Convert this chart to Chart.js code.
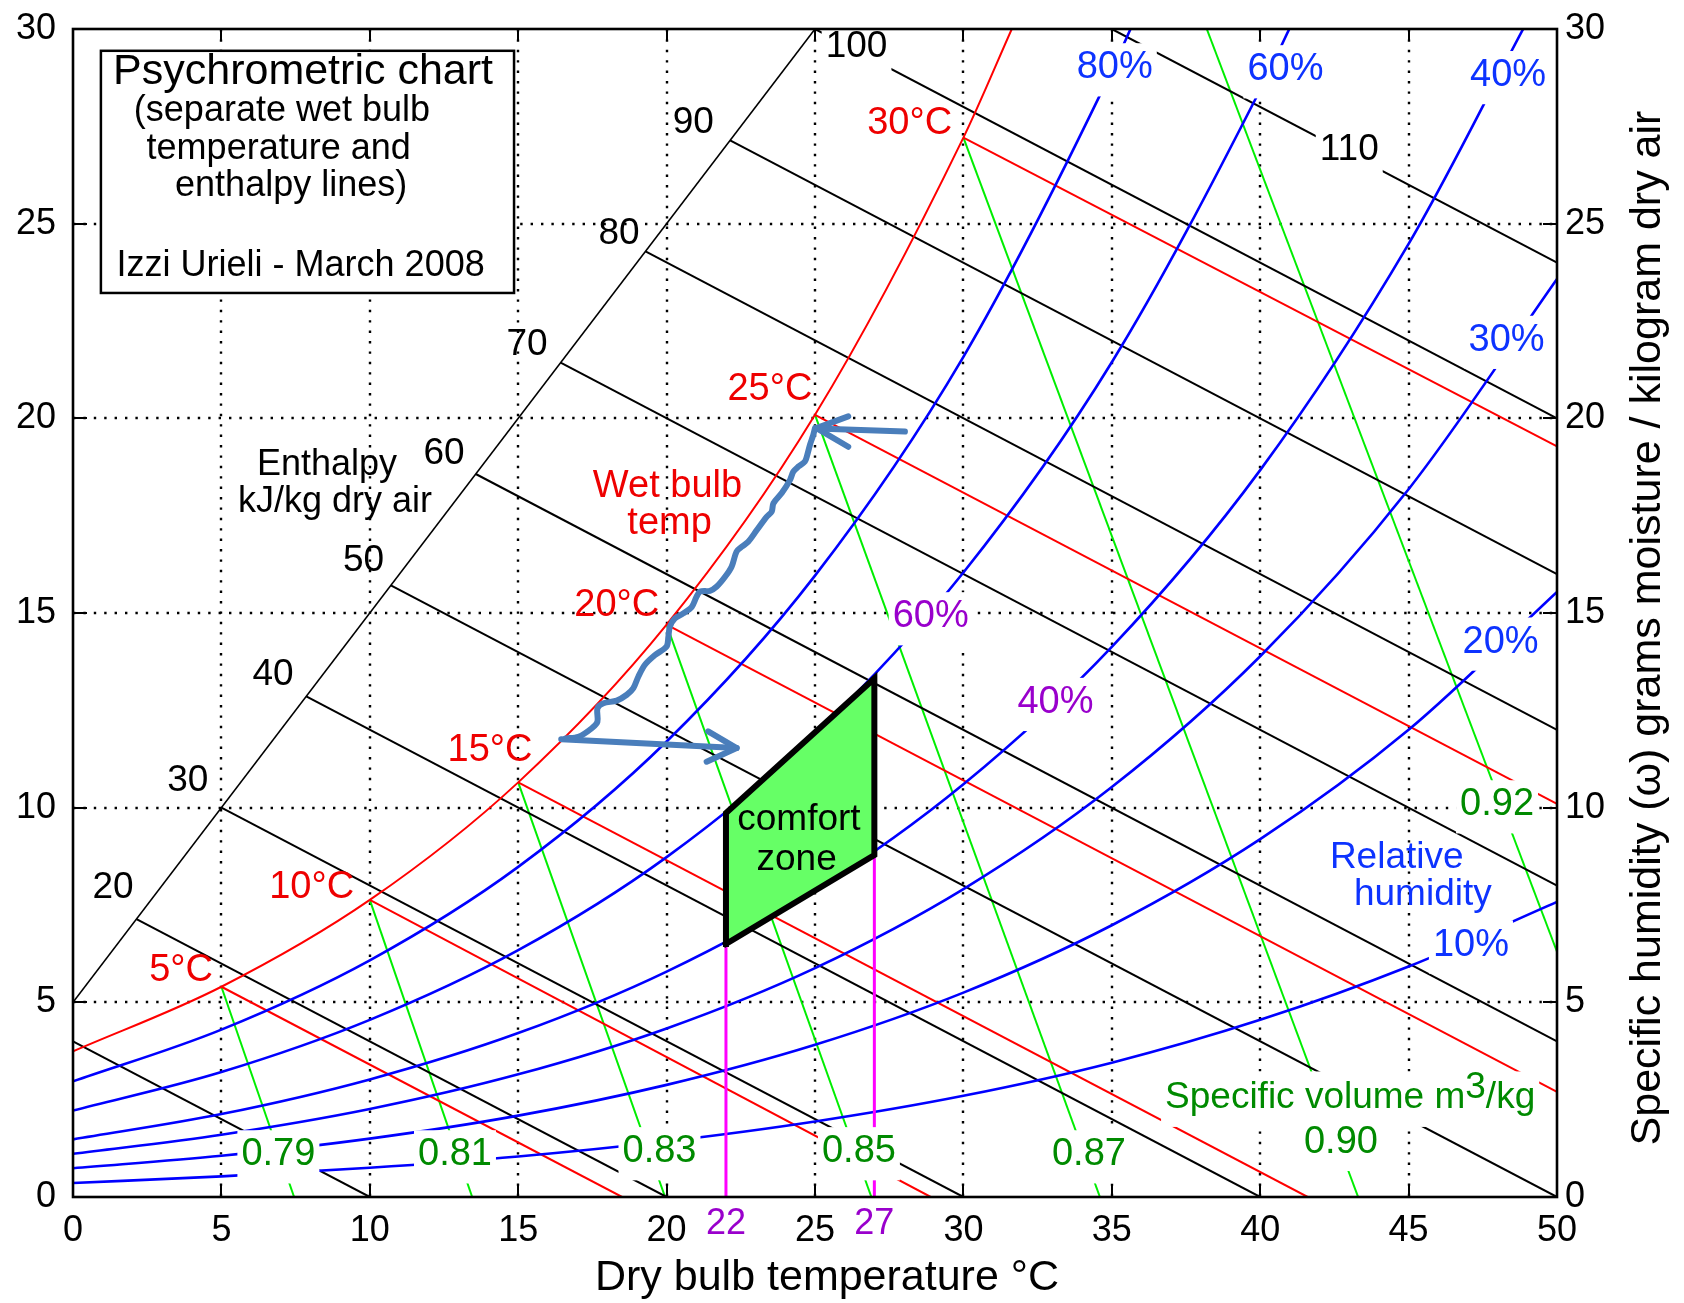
<!DOCTYPE html>
<html><head><meta charset="utf-8">
<style>html,body{margin:0;padding:0;background:#fff;}</style>
<script src="https://cdn.jsdelivr.net/npm/chart.js@4.4.0/dist/chart.umd.min.js"></script>
</head><body>
<canvas id="c" width="1684" height="1303"></canvas>
<script>
const FONT = '"Liberation Sans", Arial, Helvetica, sans-serif';

// ---------- axis ticks ----------
const xTicks = [0,5,10,15,20,25,30,35,40,45,50];
const yTicks = [0,5,10,15,20,25,30];
const extraXTicks = [22,27];

// ---------- relative humidity curves (dry bulb T, g/kg) ----------
const rhT   = [0,5,10,15,20,25,30,35,40,45,50];
const rh10W = [0.36,0.53,0.75,1.04,1.43,1.94,2.60,3.45,4.55,5.92,7.58];
const rh20W = [0.74,1.06,1.50,2.09,2.88,3.91,5.25,6.98,9.19,12.00,15.54];
const rh30W = [1.11,1.60,2.26,3.15,4.33,5.88,7.91,10.53,13.89,18.18,23.58];
const rh40T = [0,5,10,15,20,25,30,35,40,45,48.86];
const rh40W = [1.48,2.13,3.02,4.21,5.79,7.87,10.60,14.13,18.67,24.48,30];
const rh60T = [0,5,10,15,20,25,30,35,40,40.98];
const rh60W = [2.22,3.21,4.55,6.34,8.73,11.89,16.04,21.44,28.44,30];
const rh80T = [0,5,10,15,20,25,30,35,35.63];
const rh80W = [2.97,4.30,6.08,8.48,11.70,15.96,21.58,28.93,30];
const satT  = [0,5,10,15,20,25,30,31.63];
const satW  = [3.74,5.40,7.63,10.65,14.70,20.09,27.21,30];

// ---------- wet bulb lines (start on saturation, end on edge) ----------
const wb5T  = [5,18.5],   wb5W  = [5.40,0];
const wb10T = [10,28.9],  wb10W = [7.63,0];
const wb15T = [15,41.6],  wb15W = [10.65,0];
const wb20T = [20,50],    wb20W = [14.70,2.7];
const wb25T = [25,50],    wb25W = [20.09,10.1];
const wb30T = [30,50],    wb30W = [27.21,19.28];

// ---------- enthalpy lines (kJ/kg dry air) ----------
const guideT = [0,25], guideW = [5,30];
const h10T  = [0,10],      h10W  = [4.0,0];
const h20T  = [2.14,20],   h20W  = [7.14,0];
const h30T  = [5,30],      h30W  = [10,0];
const h40T  = [7.86,40],   h40W  = [12.86,0];
const h50T  = [10.71,50],  h50W  = [15.71,0];
const h60T  = [13.57,50],  h60W  = [18.57,4.0];
const h70T  = [16.43,50],  h70W  = [21.43,8.0];
const h80T  = [19.29,50],  h80W  = [24.29,12.0];
const h90T  = [22.14,50],  h90W  = [27.14,16.0];
const h100T = [25,50],     h100W = [30,20.0];
const h110T = [35,50],     h110W = [30,24.0];

// ---------- specific volume lines (m3/kg) ----------
const v79T = [5,7.45],   v79W = [5.40,0];
const v81T = [10,13.45], v81W = [7.63,0];
const v83T = [15,19.95], v83W = [10.65,0];
const v85T = [20,26.9],  v85W = [14.70,0];
const v87T = [25,34.6],  v87W = [20.09,0];
const v90T = [30,43.3],  v90W = [27.21,0];
const v92T = [38.2,50],  v92W = [30,6.3];

// ---------- comfort zone ----------
const comfortT = [22,22,27,27,22];
const comfortW = [6.5,9.86,13.32,8.78,6.5];

// ---------- hand-drawn arrows ----------
const wavyT = [16.6,17.03,17.48,17.67,17.67,17.87,18.32,18.66,18.88,19.05,19.27,19.61,20.0,20.06,20.11,20.28,20.56,20.85,21.01,21.13,21.46,21.69,21.97,22.19,22.36,22.53,22.75,23.04,23.37,23.54,23.6,23.88,24.16,24.27,24.44,24.66,24.74,24.83,24.94,25.0];
const wavyW = [11.78,11.82,12.04,12.21,12.55,12.68,12.75,12.9,13.07,13.37,13.67,13.92,14.14,14.39,14.65,14.86,14.99,15.16,15.42,15.55,15.57,15.68,15.93,16.19,16.58,16.7,16.83,17.13,17.47,17.6,17.82,18.08,18.42,18.63,18.76,18.89,19.06,19.32,19.57,19.75];
const arrow1T = [16.45,22.36], arrow1W = [11.76,11.53];
const head1T  = [21.4,22.36,21.35], head1W = [11.96,11.53,11.18];
const arrow2T = [28.03,25.05], arrow2W = [19.66,19.74];
const head2T  = [26.12,25.05,26.12], head2W = [20.05,19.75,19.27];

// ---------- colours ----------
const C_BLUE='#0000ff', C_RED='#ff0000', C_GREEN='#00ee00', C_BLACK='#000000', C_MAG='#ff00ff', C_ARROW='#4a7ebb';
const T_RED='#ee0000', T_BLUE='#0d33ff', T_GREEN='#008a00', T_PURPLE='#9900cc';

function pts(T,W){ return T.map((t,i)=>({x:t,y:W[i]})); }
function ds(T,W,color,width,extra){
  return Object.assign({data:pts(T,W),borderColor:color,backgroundColor:color,borderWidth:width,
    showLine:true,pointRadius:0,pointHoverRadius:0,fill:false,tension:0,xAxisID:'x',yAxisID:'y'},extra||{});
}
const smooth = {cubicInterpolationMode:'monotone'};
const arrowOpt = {borderCapStyle:'round',borderJoinStyle:'round'};

const datasets = [
  ds(wavyT,wavyW,C_ARROW,6,Object.assign({tension:0.3},arrowOpt)),   // 0
  ds(arrow1T,arrow1W,C_ARROW,6,arrowOpt),                              // 1
  ds(head1T,head1W,C_ARROW,6,arrowOpt),                                // 2
  ds(arrow2T,arrow2W,C_ARROW,6,arrowOpt),                              // 3
  ds(head2T,head2W,C_ARROW,6,arrowOpt),                                // 4
  ds(comfortT,comfortW,C_BLACK,6,{borderJoinStyle:'miter',borderCapStyle:'square'}), // 5
  ds([comfortT[0],comfortT[0]],[0,comfortW[0]],C_MAG,3),
  ds([comfortT[2],comfortT[2]],[0,comfortW[3]],C_MAG,3),
  ds(satT,satW,C_RED,2,smooth),
  ds(rhT,rh10W,C_BLUE,2.6,smooth),
  ds(rhT,rh20W,C_BLUE,2.6,smooth),
  ds(rhT,rh30W,C_BLUE,2.6,smooth),
  ds(rh40T,rh40W,C_BLUE,2.6,smooth),
  ds(rh60T,rh60W,C_BLUE,2.6,smooth),
  ds(rh80T,rh80W,C_BLUE,2.6,smooth),
  ds(wb5T,wb5W,C_RED,2), ds(wb10T,wb10W,C_RED,2), ds(wb15T,wb15W,C_RED,2),
  ds(wb20T,wb20W,C_RED,2), ds(wb25T,wb25W,C_RED,2), ds(wb30T,wb30W,C_RED,2),
  ds(guideT,guideW,C_BLACK,1.6),
  ds(h10T,h10W,C_BLACK,2), ds(h20T,h20W,C_BLACK,2), ds(h30T,h30W,C_BLACK,2), ds(h40T,h40W,C_BLACK,2),
  ds(h50T,h50W,C_BLACK,2), ds(h60T,h60W,C_BLACK,2), ds(h70T,h70W,C_BLACK,2), ds(h80T,h80W,C_BLACK,2),
  ds(h90T,h90W,C_BLACK,2), ds(h100T,h100W,C_BLACK,2), ds(h110T,h110W,C_BLACK,2),
  ds(v79T,v79W,C_GREEN,2), ds(v81T,v81W,C_GREEN,2), ds(v83T,v83W,C_GREEN,2), ds(v85T,v85W,C_GREEN,2),
  ds(v87T,v87W,C_GREEN,2), ds(v90T,v90W,C_GREEN,2), ds(v92T,v92W,C_GREEN,2)
];
const COMFORT_INDEX = 5;

// text annotations: [text, T, W, colour, size, whiteBackground]
const labels = [
  ['20',1.35,7.94,C_BLACK,37,false],['30',3.87,10.7,C_BLACK,37,false],['40',6.74,13.4,C_BLACK,37,false],
  ['50',9.79,16.35,C_BLACK,37,false],['60',12.5,19.1,C_BLACK,37,false],['70',15.3,21.9,C_BLACK,37,false],
  ['80',18.4,24.75,C_BLACK,37,false],['90',20.9,27.6,C_BLACK,37,false],['100',26.4,29.55,C_BLACK,37,true],
  ['110',43.0,26.9,C_BLACK,37,true],
  ['Enthalpy',8.56,18.79,C_BLACK,36,false],['kJ/kg dry air',8.83,17.84,C_BLACK,36,false],
  ['5°C',3.64,5.83,T_RED,38,false],['10°C',8.04,7.96,T_RED,38,false],['15°C',14.05,11.48,T_RED,38,false],
  ['20°C',18.32,15.2,T_RED,38,false],['25°C',23.48,20.75,T_RED,38,false],['30°C',28.19,27.58,T_RED,38,false],
  ['Wet bulb',20.03,18.26,T_RED,38,false],['temp',20.1,17.29,T_RED,38,false],
  ['80%',35.1,29.0,T_BLUE,38,true],['60%',40.85,28.95,T_BLUE,38,true],['40%',48.35,28.8,T_BLUE,38,true],
  ['30%',48.3,22.0,T_BLUE,38,true],['20%',48.1,14.25,T_BLUE,38,true],['10%',47.1,6.47,T_BLUE,38,true],
  ['Relative',44.6,8.71,T_BLUE,37,false],['humidity',45.48,7.76,T_BLUE,37,false],
  ['60%',28.9,14.9,T_PURPLE,38,true],['40%',33.1,12.7,T_PURPLE,38,true],
  ['0.79',6.92,1.08,T_GREEN,38,true],['0.81',12.87,1.08,T_GREEN,38,true],['0.83',19.76,1.16,T_GREEN,38,true],
  ['0.85',26.48,1.16,T_GREEN,38,true],['0.87',34.23,1.08,T_GREEN,38,true],['0.90',42.72,1.40,T_GREEN,38,true],
  ['0.92',47.98,10.07,T_GREEN,38,true],
  ['comfort',24.46,9.68,C_BLACK,37,false],['zone',24.38,8.65,C_BLACK,37,false]
];
const specVolLabel = {a:'Specific volume m', sup:'3', b:'/kg', T:43.03, W:2.56, size:37};
const infoBox = {T0:0.94, T1:14.86, W0:23.22, W1:29.44,
  lines:[['Psychrometric chart',7.75,28.9,43],['(separate wet bulb',7.04,27.88,36],['temperature and',6.93,26.92,36],
         ['enthalpy lines)',7.35,25.97,36],['Izzi Urieli - March 2008',7.67,23.9,36]]};
const xTitle = 'Dry bulb temperature °C';
const yTitle = 'Specific humidity (ω) grams moisture / kilogram dry air';

function txt(ctx,str,x,y,color,size,bg){
  ctx.save();
  ctx.font = size+'px '+FONT;
  ctx.textAlign='center'; ctx.textBaseline='middle';
  if(bg){ const w=ctx.measureText(str).width; ctx.fillStyle='#fff'; ctx.fillRect(x-w/2-4,y-0.65*size,w+8,1.4*size); }
  ctx.fillStyle=color; ctx.fillText(str,x,y);
  ctx.restore();
}

const annot = {
  id:'annot',
  beforeDatasetsDraw(chart){
    const {ctx,chartArea:a,scales:{x,y}} = chart;
    ctx.save(); ctx.strokeStyle='#000'; ctx.lineWidth=2.4; ctx.setLineDash([2.4,8]);
    xTicks.forEach(v=>{ if(v>0&&v<50){ const p=Math.round(x.getPixelForValue(v)); ctx.beginPath(); ctx.moveTo(p,a.top); ctx.lineTo(p,a.bottom); ctx.stroke(); }});
    yTicks.forEach(v=>{ if(v>0&&v<30){ const p=Math.round(y.getPixelForValue(v)); ctx.beginPath(); ctx.moveTo(a.left,p); ctx.lineTo(a.right,p); ctx.stroke(); }});
    ctx.restore();
  },
  beforeDatasetDraw(chart,args){
    if(args.index!==COMFORT_INDEX) return;
    const {ctx,scales:{x,y}} = chart;
    ctx.save(); ctx.fillStyle='#66ff66'; ctx.beginPath();
    comfortT.forEach((t,i)=>{ const px=x.getPixelForValue(t), py=y.getPixelForValue(comfortW[i]); i?ctx.lineTo(px,py):ctx.moveTo(px,py); });
    ctx.closePath(); ctx.fill(); ctx.restore();
  },
  afterDatasetDraw(chart,args){
    if(args.index!==COMFORT_INDEX) return;
    const {ctx,scales:{x,y}} = chart;
    // specific volume label with superscript (drawn first, so the value labels stay on top)
    const s=specVolLabel, cx=x.getPixelForValue(s.T), cy=y.getPixelForValue(s.W);
    ctx.save(); ctx.font=s.size+'px '+FONT;
    const wa=ctx.measureText(s.a).width, ws=ctx.measureText(s.sup).width, wb=ctx.measureText(s.b).width;
    const tot=wa+ws+wb; let px=cx-tot/2;
    ctx.fillStyle='#fff'; ctx.fillRect(px-4,cy-0.7*s.size,tot+8,1.5*s.size);
    ctx.fillStyle=T_GREEN; ctx.textAlign='left'; ctx.textBaseline='middle';
    ctx.fillText(s.a,px,cy); px+=wa; ctx.fillText(s.sup,px,cy-0.27*s.size); px+=ws; ctx.fillText(s.b,px,cy);
    ctx.restore();
    labels.forEach(l=>txt(ctx,l[0],x.getPixelForValue(l[1]),y.getPixelForValue(l[2]),l[3],l[4],l[5]));
    // info box
    const b=infoBox, bx0=x.getPixelForValue(b.T0), bx1=x.getPixelForValue(b.T1), by0=y.getPixelForValue(b.W1), by1=y.getPixelForValue(b.W0);
    ctx.save(); ctx.fillStyle='#fff'; ctx.fillRect(bx0,by0,bx1-bx0,by1-by0);
    ctx.strokeStyle='#000'; ctx.lineWidth=2.5; ctx.strokeRect(bx0,by0,bx1-bx0,by1-by0); ctx.restore();
    b.lines.forEach(l=>txt(ctx,l[0],x.getPixelForValue(l[1]),y.getPixelForValue(l[2]),C_BLACK,l[3],false));
  },
  afterDraw(chart){
    const {ctx,chartArea:a,scales:{x,y}} = chart;
    ctx.save();
    ctx.strokeStyle='#000'; ctx.lineWidth=2;
    xTicks.forEach(v=>{ const p=Math.round(x.getPixelForValue(v)); ctx.beginPath(); ctx.moveTo(p,a.bottom); ctx.lineTo(p,a.bottom-12); ctx.moveTo(p,a.top); ctx.lineTo(p,a.top+12); ctx.stroke(); });
    yTicks.forEach(v=>{ const p=Math.round(y.getPixelForValue(v)); ctx.beginPath(); ctx.moveTo(a.left,p); ctx.lineTo(a.left+14,p); ctx.moveTo(a.right,p); ctx.lineTo(a.right-14,p); ctx.stroke(); });
    ctx.lineWidth=2.6; ctx.strokeRect(a.left,a.top,a.right-a.left,a.bottom-a.top);
    // extra x tick labels
    ctx.font='36px '+FONT; ctx.fillStyle=T_PURPLE; ctx.textAlign='center'; ctx.textBaseline='middle';
    extraXTicks.forEach(v=>ctx.fillText(String(v),x.getPixelForValue(v),a.bottom+27));
    // axis titles
    ctx.fillStyle='#000'; ctx.font='43px '+FONT;
    ctx.fillText(xTitle,(a.left+a.right)/2+12,a.bottom+81);
    ctx.translate(1648,(a.top+a.bottom)/2+15); ctx.rotate(-Math.PI/2);
    ctx.fillText(yTitle,0,0);
    ctx.restore();
  }
};

Chart.defaults.font.family = FONT;
new Chart(document.getElementById('c'),{
  type:'scatter',
  data:{datasets},
  options:{
    responsive:false, animation:false, devicePixelRatio:1,
    layout:{padding:{top:29,left:0,right:0,bottom:0}},
    plugins:{legend:{display:false},tooltip:{enabled:false}},
    events:[],
    scales:{
      x:{type:'linear',position:'bottom',min:0,max:50,
         afterBuildTicks(s){ s.ticks = xTicks.map(v=>({value:v})); },
         ticks:{font:{size:36},color:'#000',padding:12,maxRotation:0,autoSkip:false},
         grid:{display:false,drawTicks:false},border:{display:false},
         afterFit(s){ s.height=106; }},
      y:{type:'linear',position:'left',min:0,max:30,
         afterBuildTicks(s){ s.ticks = yTicks.map(v=>({value:v})); },
         ticks:{font:{size:36,lineHeight:0.6},color:'#000',padding:17},
         grid:{display:false,drawTicks:false},border:{display:false},
         afterFit(s){ s.width=73; }},
      y2:{type:'linear',position:'right',min:0,max:30,
         afterBuildTicks(s){ s.ticks = yTicks.map(v=>({value:v})); },
         ticks:{font:{size:36,lineHeight:0.6},color:'#000',padding:8},
         grid:{display:false,drawTicks:false},border:{display:false},
         afterFit(s){ s.width=127; }}
    }
  },
  plugins:[annot]
});
</script>
</body></html>
